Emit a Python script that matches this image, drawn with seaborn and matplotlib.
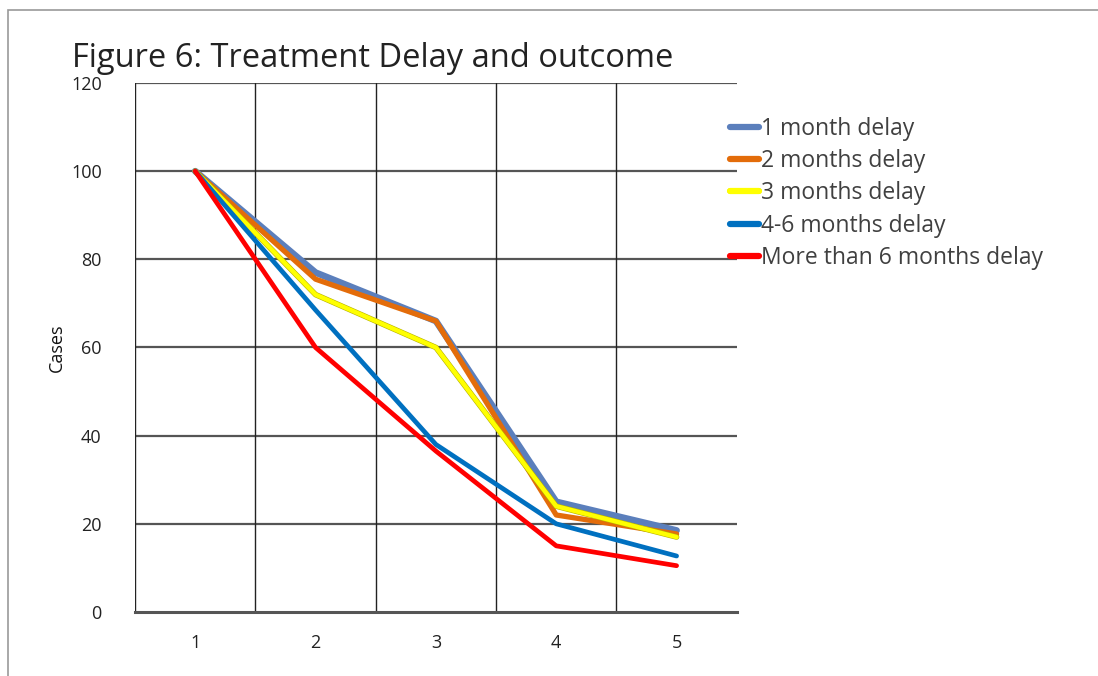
import matplotlib
matplotlib.use("Agg")
import matplotlib.pyplot as plt
import matplotlib.patheffects as pe
import seaborn as sns
import pandas as pd
from matplotlib.patches import Rectangle

months = [1, 2, 3, 4, 5]
delay_labels = ["1 month delay", "2 months delay", "3 months delay",
                "4-6 months delay", "More than 6 months delay"]
one_month = [100, 77, 66, 25, 18.5]
two_months = [100, 75.5, 66, 22, 17.7]
three_months = [100, 72, 60, 24, 17]
four_six_months = [100, 68.5, 38, 20, 12.7]
over_six_months = [100, 60, 36.5, 15, 10.5]

colors = ["#5B7FBC", "#E36C0A", "#FFFF00", "#0070C0", "#FF0000"]
widths = [4.8, 3.8, 3.2, 3.4, 3.4]

series = [one_month, two_months, three_months, four_six_months, over_six_months]
rows = []
for name, vals in zip(delay_labels, series):
    for m, v in zip(months, vals):
        rows.append({"month": m, "cases": v, "delay": name})
df = pd.DataFrame(rows)

sns.set_style("white")
plt.rcParams["font.family"] = ["Open Sans", "DejaVu Sans"]

fig = plt.figure(figsize=(10.98, 6.76), dpi=100)
ax = fig.add_axes([0.123, 0.0947, 0.548, 0.7825])

# grid: horizontal at every 20, vertical between categories
for y in range(20, 121, 20):
    ax.axhline(y, color="#555555", lw=1.6, zorder=1)
for x in [0.5, 1.5, 2.5, 3.5, 4.5]:
    ax.axvline(x, color="#222222", lw=1.0, zorder=1)

for i, name in enumerate(delay_labels):
    sub = df[df["delay"] == name]
    sns.lineplot(data=sub, x="month", y="cases", color=colors[i],
                 linewidth=widths[i], label=name, ax=ax, zorder=3 + i)

# thin olive rim on the yellow line, as in the original
ax.lines[-3].set_path_effects([pe.Stroke(linewidth=widths[2] + 0.8, foreground="#B5B000"),
                               pe.Normal()])

ax.set_xlim(0.5, 5.5)
ax.set_ylim(0, 120)
ax.set_xticks(months)
ax.set_yticks(range(0, 121, 20))
ax.tick_params(length=0, labelsize=13, colors="#222222")
ax.tick_params(axis="x", pad=16)
ax.tick_params(axis="y", pad=24)
for s in ["top", "right", "left"]:
    ax.spines[s].set_visible(False)
ax.spines["bottom"].set_color("#555555")
ax.spines["bottom"].set_linewidth(2.2)
ax.set_xlabel("")
ax.set_ylabel("Cases", fontsize=13, labelpad=4, color="#111111")

fig.text(0.066, 0.913, "Figure 6: Treatment Delay and outcome",
         fontsize=23.5, color="#222222", va="center", ha="left")

leg = ax.legend(loc="upper left", bbox_to_anchor=(0.955, 0.975), frameon=False,
                fontsize=16.5, handlelength=1.25, handletextpad=0.1,
                labelspacing=0.36, labelcolor="#404040")
for h in leg.get_lines():
    h.set_linewidth(4.5)

fig.patches.append(Rectangle((0.007, -0.1), 1.2, 1.085, transform=fig.transFigure,
                             fill=False, edgecolor="#999999", lw=1.2))

fig.savefig("out.png", dpi=100)
